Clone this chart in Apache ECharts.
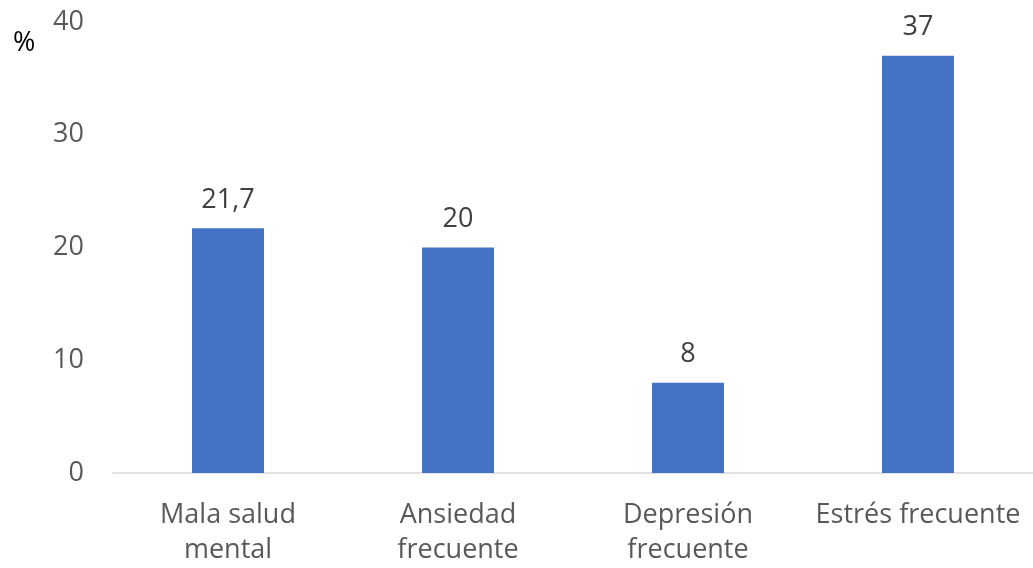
<!DOCTYPE html>
<html>
<head>
<meta charset="utf-8">
<script src="https://cdn.jsdelivr.net/npm/echarts@6/dist/echarts.min.js"></script>
<style>
  html, body { margin: 0; padding: 0; background: #fff; }
  #chart { width: 1033px; height: 568px; }
</style>
</head>
<body>
<div id="chart"></div>
<script>
var categories = ['Mala salud\nmental', 'Ansiedad\nfrecuente', 'Depresión\nfrecuente', 'Estrés frecuente'];
var values = [21.7, 20, 8, 37];
var yTicks = [0, 10, 20, 30, 40];

var font = '"Open Sans", "Liberation Sans", sans-serif';
var chart = echarts.init(document.getElementById('chart'));

chart.setOption({
    animation: false,
    grid: { left: 113, right: 0, top: 22, bottom: 94, containLabel: false },
    graphic: [{
        type: 'text',
        left: 13,
        top: 30,
        style: { text: '%', fontSize: 27, fontFamily: font, fill: '#000' }
    }],
    xAxis: {
        type: 'category',
        data: categories,
        axisLine: { show: true, lineStyle: { color: '#d9d9d9', width: 1.5 } },
        axisTick: { show: false },
        axisLabel: {
            interval: 0,
            color: '#595959',
            fontSize: 27,
            fontFamily: font,
            lineHeight: 35,
            margin: 25
        }
    },
    yAxis: {
        type: 'value',
        min: yTicks[0],
        max: yTicks[yTicks.length - 1],
        interval: 10,
        axisLine: { show: false },
        axisTick: { show: false },
        splitLine: { show: false },
        axisLabel: { color: '#595959', fontSize: 27, fontFamily: font, margin: 29 }
    },
    series: [{
        type: 'bar',
        data: values,
        barWidth: 72,
        itemStyle: { color: '#4472c4' },
        label: {
            show: true,
            position: 'top',
            distance: 15,
            color: '#404040',
            fontSize: 27,
            fontFamily: font,
            formatter: function (p) { return String(p.value).replace('.', ','); }
        }
    }]
});
</script>
</body>
</html>
